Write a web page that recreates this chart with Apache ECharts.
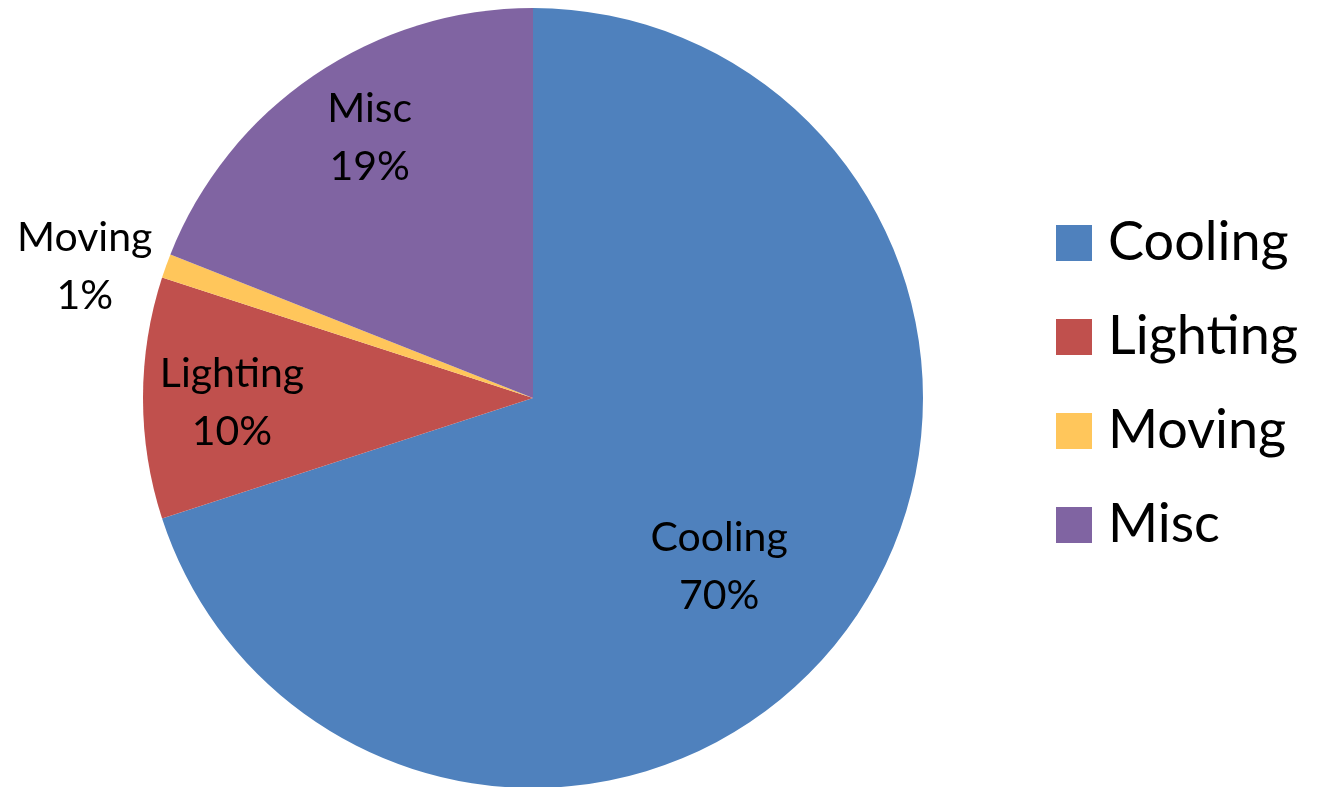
<!DOCTYPE html>
<html><head><meta charset="utf-8">
<script src="https://cdn.jsdelivr.net/npm/echarts@6/dist/echarts.min.js"></script>
<style>html,body{margin:0;padding:0;background:#fff}#c{width:1318px;height:787px}</style>
</head><body><div id="c"></div>
<script>
const categories = ['Cooling', 'Lighting', 'Moving', 'Misc'];
const values = [70, 10, 1, 19];
const colors = ['#4F81BD', '#C0504D', '#FFC65B', '#8064A2'];
const labelOffsets = [[26, 52], [-103, 5], [-262, -64], [-52, -96]];

const chart = echarts.init(document.getElementById('c'));
const FONT = 'Lato';
chart.setOption({
  animation: false,
  legend: {
    orient: 'vertical',
    left: 1051,
    top: 211,
    icon: 'rect',
    itemWidth: 36,
    itemHeight: 36,
    itemGap: 40,
    data: categories,
    textStyle: { fontFamily: FONT, fontSize: 54, color: '#000', lineHeight: 52, padding: [0, 0, 0, 11] }
  },
  series: [{
    type: 'pie',
    center: [533, 398],
    radius: 390,
    startAngle: 90,
    clockwise: true,
    avoidLabelOverlap: false,
    labelLine: { show: false },
    data: categories.map((n, i) => ({
      name: n, value: values[i],
      itemStyle: { color: colors[i] },
      label: { offset: labelOffsets[i] }
    })),
    label: {
      show: true,
      position: 'inside',
      formatter: p => p.name + '\n' + Math.round(p.percent) + '%',
      fontFamily: FONT,
      fontSize: 41,
      lineHeight: 58,
      color: '#000'
    }
  }]
});
</script></body></html>
